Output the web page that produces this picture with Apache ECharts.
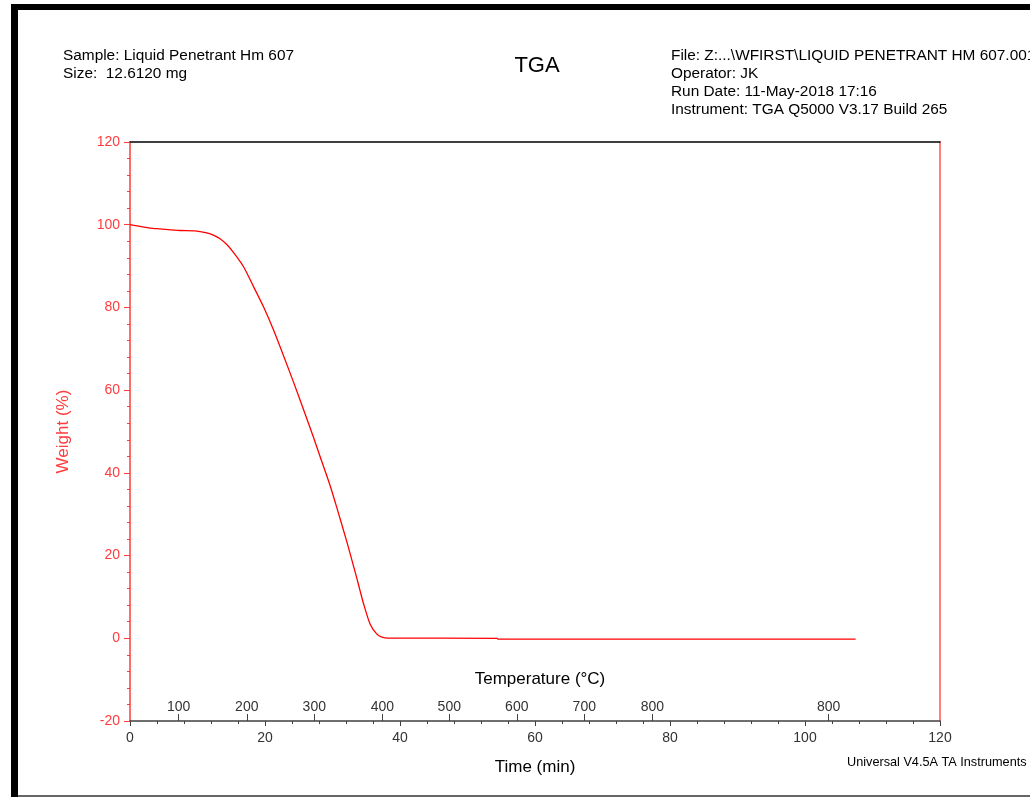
<!DOCTYPE html>
<html>
<head>
<meta charset="utf-8">
<title>TGA</title>
<script src="https://cdn.jsdelivr.net/npm/echarts@6/dist/echarts.min.js"></script>
<style>
  html, body { margin: 0; padding: 0; background: #fff; }
  #chart { width: 1030px; height: 797px; }
</style>
</head>
<body>
<div id="chart"></div>
<script>
// time (min) vs weight (%)
const timeMin = [0, 1.48, 2.97, 4.45, 7.41, 9.64, 11.37, 12.35, 13.34, 14.34, 15.32, 16.8, 18.28, 19.76,
  21.25, 22.73, 24.21, 25.69, 27.18, 28.17, 29.65, 30.64, 32.13, 32.62, 33.61, 34.1, 34.59, 35.58,
  36.58, 37.32, 38.25, 54.4, 54.5, 107.5];
const weightPct = [100.0, 99.6, 99.2, 99.0, 98.6, 98.5, 98.0, 97.5, 96.6, 95.2, 93.3, 89.9, 85.1, 80.2,
  74.6, 68.4, 62.0, 55.4, 48.6, 43.9, 36.9, 31.6, 23.3, 20.4, 14.5, 11.4, 8.4, 3.4,
  1.0, 0.3, 0.05, 0.0, -0.2, -0.2];

// temperature labels sit at these times on the time scale
const tempAt = [7.2, 17.3, 27.3, 37.4, 47.3, 57.3, 67.3, 77.4, 103.5];
const tempLabels = ['100', '200', '300', '400', '500', '600', '700', '800', '800'];

const headerLeft = ['Sample: Liquid Penetrant Hm 607', 'Size:  12.6120 mg'];
const headerRight = ['File: Z:...\\WFIRST\\LIQUID PENETRANT HM 607.001', 'Operator: JK',
  'Run Date: 11-May-2018 17:16', 'Instrument: TGA Q5000 V3.17 Build 265'];

const font = 'Liberation Sans, Arial, sans-serif';
const red = '#ff3b3b';

const chart = echarts.init(document.getElementById('chart'));

const label = (x, y, text, size, align) => ({
  type: 'text', x: x, y: y,
  style: { text: text, font: size + 'px ' + font, fill: '#000', textAlign: align || 'left', textVerticalAlign: 'middle' }
});

const graphics = [
  // page frame
  { type: 'rect', shape: { x: 11, y: 4, width: 1019, height: 6 }, style: { fill: '#000' } },
  { type: 'rect', shape: { x: 11, y: 4, width: 7, height: 793 }, style: { fill: '#000' } },
  { type: 'rect', shape: { x: 18, y: 795, width: 1012, height: 2 }, style: { fill: '#666' } },
  label(537, 66, 'TGA', 22, 'center'),
  label(540, 679, 'Temperature (°C)', 17, 'center'),
  label(847, 762, 'Universal V4.5A TA Instruments', 12.7)
];
headerLeft.forEach((t, i) => graphics.push(label(63, 56 + i * 18, t, 15.4)));
headerRight.forEach((t, i) => graphics.push(label(671, 56 + i * 18, t, 15.4)));

chart.setOption({
  animation: false,
  backgroundColor: '#fff',
  textStyle: { fontFamily: font },
  grid: { left: 130, right: 90, top: 142, bottom: 76 },
  graphic: graphics,
  xAxis: [
    {
      type: 'value', min: 0, max: 120, interval: 20, position: 'bottom',
      name: 'Time (min)', nameLocation: 'middle', nameGap: 38,
      nameTextStyle: { color: '#000', fontSize: 17, fontFamily: font },
      axisLine: { onZero: false, lineStyle: { color: '#404040', width: 1.5 } },
      axisTick: { length: 5, lineStyle: { color: '#404040' } },
      minorTick: { show: true, splitNumber: 5, length: 3, lineStyle: { color: '#404040' } },
      axisLabel: { color: '#333', fontSize: 14, margin: 10, fontFamily: font },
      splitLine: { show: false }
    },
    {
      type: 'value', min: 0, max: 120, position: 'bottom',
      axisLine: { show: false, onZero: false },
      axisTick: { show: true, inside: true, length: 7, customValues: tempAt, lineStyle: { color: '#404040' } },
      axisLabel: {
        inside: true, margin: 7, color: '#333', fontSize: 14, fontFamily: font,
        customValues: tempAt,
        formatter: (v) => tempLabels[tempAt.indexOf(v)]
      },
      splitLine: { show: false }
    },
    {
      type: 'value', min: 0, max: 120, position: 'top',
      axisLine: { show: true, onZero: false, lineStyle: { color: '#000', width: 1.5 } },
      axisTick: { show: false }, axisLabel: { show: false }, splitLine: { show: false }
    }
  ],
  yAxis: [
    {
      type: 'value', min: -20, max: 120, interval: 20, position: 'left',
      name: 'Weight (%)', nameLocation: 'middle', nameGap: 58,
      nameTextStyle: { color: red, fontSize: 17, fontFamily: font },
      axisLine: { show: true, onZero: false, lineStyle: { color: red, width: 1.5 } },
      axisTick: { show: true, length: 6, lineStyle: { color: red } },
      minorTick: { show: true, splitNumber: 5, length: 3, lineStyle: { color: red } },
      axisLabel: { color: red, fontSize: 14, margin: 10, fontFamily: font },
      splitLine: { show: false }
    },
    {
      type: 'value', min: -20, max: 120, position: 'right',
      axisLine: { show: true, onZero: false, lineStyle: { color: '#ff8080', width: 2 } },
      axisTick: { show: false }, axisLabel: { show: false }, splitLine: { show: false }
    }
  ],
  series: [{
    type: 'line',
    xAxisIndex: 0,
    yAxisIndex: 0,
    data: timeMin.map((t, i) => [t, weightPct[i]]),
    showSymbol: false,
    smooth: 0.25,
    lineStyle: { color: '#ff0000', width: 1.3 }
  }]
});
</script>
</body>
</html>
